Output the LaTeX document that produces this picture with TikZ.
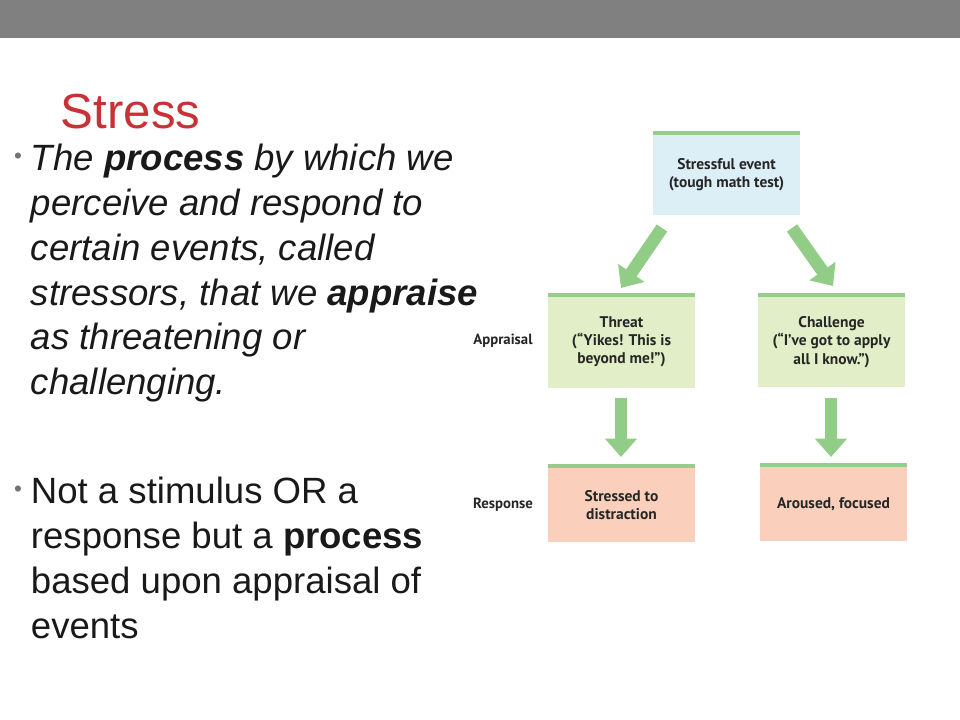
\documentclass[tikz,border=0pt]{standalone}
\usepackage{fontspec}
\setmainfont{Liberation Sans}
\newfontfamily\diagfont{PT Sans}
\usetikzlibrary{arrows.meta}
\definecolor{titlered}{RGB}{200,50,55}
\definecolor{barbg}{RGB}{128,128,128}
\definecolor{evblue}{RGB}{220,238,246}
\definecolor{appgreen}{RGB}{226,238,200}
\definecolor{respink}{RGB}{250,208,188}
\definecolor{topgreen}{RGB}{150,205,140}
\definecolor{arrgreen}{RGB}{145,205,135}
\tikzset{
	flowbox/.style={minimum width=147*0.025cm, align=center, font=\diagfont\bfseries\fontsize{11}{13}\selectfont, text=black!85},
	rowlabel/.style={font=\diagfont\bfseries\fontsize{10.5}{12}\selectfont, text=black!85},
	greenarrow/.style={arrgreen, line width=9pt, -{Triangle[length=13pt,width=22pt]}},
	bodytext/.style={anchor=north west, align=left, font=\fontsize{26}{31.9}\selectfont, text=black!90},
	bulletdot/.style={text=black!55, font=\fontsize{16}{16}\selectfont}
}
\begin{document}
\begin{tikzpicture}[x=0.025cm, y=-0.025cm]
	\useasboundingbox (0,0) rectangle (960,720);
	\fill[barbg] (0,0) rectangle (960,38);
	
	%Title and bullets:
	\node (title) at (56,112) [anchor=west, text=titlered, font=\fontsize{35}{40}\selectfont] {Stress};
	\node (dotA) at (18,158) [bulletdot] {•};
	\node (textA) at (26,139) [bodytext] {\itshape The \textbf{process} by which we\\
		\itshape perceive and respond to\\
		\itshape certain events, called\\
		\itshape stressors, that we \textbf{appraise}\\
		\itshape as threatening or\\
		\itshape challenging.};
	\node (dotB) at (18,491) [bulletdot] {•};
	\node (textB) at (26,472) [bodytext] {Not a stimulus OR a\\
		response but a \textbf{process}\\
		based upon appraisal of\\
		events};
	
	%Boxes:
	\fill[evblue] (653,131) rectangle (800,215);
	\fill[topgreen] (653,131) rectangle (800,135);
	\node (event) at (726.5,175) [flowbox] {Stressful event\\(tough math test)};
	
	\fill[appgreen] (548,293) rectangle (695,388);
	\fill[topgreen] (548,293) rectangle (695,297);
	\node (threat) at (621.5,342) [flowbox] {Threat\\(“Yikes! This is\\beyond me!”)};
	
	\fill[appgreen] (758,293) rectangle (905,387);
	\fill[topgreen] (758,293) rectangle (905,297);
	\node (challenge) at (831.5,342) [flowbox] {Challenge\\(“I’ve got to apply\\all I know.”)};
	
	\fill[respink] (548,464) rectangle (695,542);
	\fill[topgreen] (548,464) rectangle (695,468);
	\node (stressed) at (621.5,505) [flowbox] {Stressed to\\distraction};
	
	\fill[respink] (760,463) rectangle (907,541);
	\fill[topgreen] (760,463) rectangle (907,467);
	\node (aroused) at (833.5,504) [flowbox] {Aroused, focused};
	
	\node (appraisal) at (503,341) [rowlabel] {Appraisal};
	\node (response) at (503,505) [rowlabel] {Response};
	
	%Arrows:
	\coordinate (evL) at (662,228);
	\coordinate (evR) at (792,228);
	\coordinate (thB) at (621,398);
	\coordinate (chB) at (831,398);
	\draw [greenarrow] (evL) -- (621,288);
	\draw [greenarrow] (evR) -- (833,286);
	\draw [greenarrow] (thB) -- (621,457);
	\draw [greenarrow] (chB) -- (831,457);
\end{tikzpicture}
\end{document}
